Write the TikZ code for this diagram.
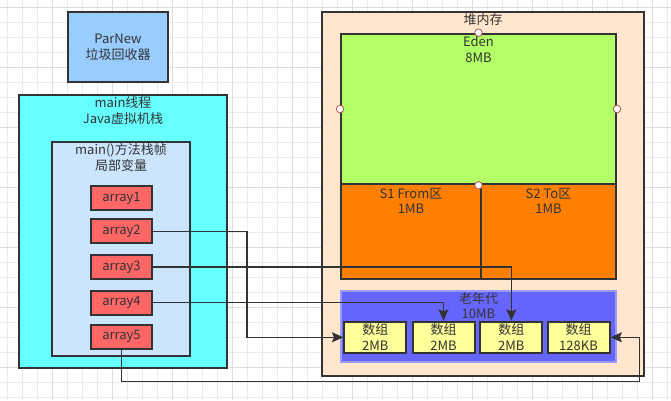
\documentclass[tikz,border=0pt]{standalone}
\usepackage{fontspec}
\setmainfont{Noto Sans CJK SC}
\usetikzlibrary{arrows.meta,calc}
\definecolor{ink}{HTML}{333333}
\definecolor{gridc}{HTML}{EBEBEB}
\definecolor{gridmaj}{HTML}{DEDEDE}
\definecolor{parnewc}{HTML}{99CCFF}
\definecolor{threadc}{HTML}{66FFFF}
\definecolor{framec}{HTML}{CCE5FF}
\definecolor{arrc}{HTML}{FF6666}
\definecolor{heapc}{HTML}{FFE6CC}
\definecolor{edenc}{HTML}{B3FF66}
\definecolor{survc}{HTML}{FF8000}
\definecolor{oldc}{HTML}{6666FF}
\definecolor{oldline}{HTML}{9999FF}
\definecolor{objc}{HTML}{FFFF99}
\definecolor{handlec}{HTML}{B85450}
\def\px{0.75pt}

\begin{document}
\begin{tikzpicture}[x=0.75pt,y=-0.75pt,
  every node/.style={font=\fontsize{9.75}{11.8}\selectfont, text=ink},
  box/.style={rectangle, draw=ink, line width=1.5pt, inner sep=0pt, align=center},
  title/.style={align=center, inner sep=0pt},
  conn/.style={draw=ink, line width=1.1pt, -{Stealth[length=8.5pt,width=7.5pt,inset=1.5pt]}},
  handle/.style={circle, draw=handlec, fill=white, line width=0.6pt, inner sep=0pt, minimum size=7.5*\px}]
  \useasboundingbox (0,0) rectangle (671,400);
  % grid
  \foreach \g in {7.5,22.5,...,667.5} \draw[gridc, line width=0.6pt] (\g,0) -- (\g,400);
  \foreach \g in {7.5,22.5,...,397.5} \draw[gridc, line width=0.6pt] (0,\g) -- (671,\g);
  \foreach \g in {52.5,112.5,...,667.5} \draw[gridmaj, line width=0.6pt] (\g,0) -- (\g,400);
  \foreach \g in {7.5,67.5,...,397.5} \draw[gridmaj, line width=0.6pt] (0,\g) -- (671,\g);

  % stack side
  \node[box, fill=parnewc, minimum width=100*\px, minimum height=70*\px] (parnew) at (118,47) {ParNew\\垃圾回收器};
  \node[box, fill=threadc, minimum width=208*\px, minimum height=273*\px] (thread) at (123,231.5) {};
  \node[title] (threadlbl) at ($(thread.north)+(0,16.5)$) {main线程\\Java虚拟机栈};
  \node[box, fill=framec, minimum width=138*\px, minimum height=214*\px] (frame) at (121,249) {};
  \node[title] (framelbl) at ($(frame.north)+(0,16.5)$) {main()方法栈帧\\局部变量};
  \node[box, fill=arrc, minimum width=61*\px, minimum height=24*\px] (a1) at (121.5,198) {array1};
  \node[box, fill=arrc, minimum width=61*\px, minimum height=24*\px] (a2) at (121.5,231.3) {array2};
  \node[box, fill=arrc, minimum width=61*\px, minimum height=24*\px] (a3) at (121.5,266.8) {array3};
  \node[box, fill=arrc, minimum width=61*\px, minimum height=24*\px] (a4) at (121.5,302.5) {array4};
  \node[box, fill=arrc, minimum width=61*\px, minimum height=24*\px] (a5) at (121.5,336.8) {array5};

  % heap side
  \node[box, fill=heapc, minimum width=322.6*\px, minimum height=364*\px] (heap) at (483,193.7) {};
  \node[title] (heaplbl) at ($(heap.north)+(0,9)$) {堆内存};
  \node[box, fill=edenc, minimum width=275*\px, minimum height=150.6*\px] (eden) at (478.5,109) {};
  \node[title] (edenlbl) at ($(eden.north)+(0,16.5)$) {Eden\\8MB};
  \node[box, fill=survc, minimum width=140*\px, minimum height=94.7*\px] (s1) at (411,231.7) {};
  \node[title] (s1lbl) at ($(s1.north)+(0,17.5)$) {S1 From区\\1MB};
  \node[box, fill=survc, minimum width=135*\px, minimum height=94.7*\px] (s2) at (548.5,231.7) {};
  \node[title] (s2lbl) at ($(s2.north)+(0,17.5)$) {S2 To区\\1MB};
  \node[handle] (h1) at (eden.north) {};
  \node[handle] (h2) at (eden.west) {};
  \node[handle] (h3) at (eden.east) {};
  \node[handle] (h4) at (eden.south) {};
  \node[box, draw=oldline, fill=oldc, minimum width=275*\px, minimum height=71*\px] (old) at (478.5,326.5) {};
  \node[title] (oldlbl) at ($(old.north)+(0,15.5)$) {老年代\\10MB};
  \node[box, fill=objc, minimum width=62*\px, minimum height=31.3*\px] (o1) at (375.3,337.3) {数组\\2MB};
  \node[box, fill=objc, minimum width=62*\px, minimum height=31.3*\px] (o2) at (443.5,337.3) {数组\\2MB};
  \node[box, fill=objc, minimum width=62*\px, minimum height=31.3*\px] (o3) at (511.3,337.3) {数组\\2MB};
  \node[box, fill=objc, minimum width=62*\px, minimum height=31.3*\px] (o4) at (578.5,337.3) {数组\\128KB};

  % references
  \coordinate (bend2) at (247,231.3);
  \coordinate (loop) at (639.5,381.5);
  \draw[conn] (a2.east) -- (bend2) |- (o1.west);
  \draw[conn] (a3.east) -| (o3.north);
  \draw[conn] (a4.east) -| (o2.north);
  \draw[conn] (a5.south) |- (loop) |- (o4.east);
\end{tikzpicture}
\end{document}
